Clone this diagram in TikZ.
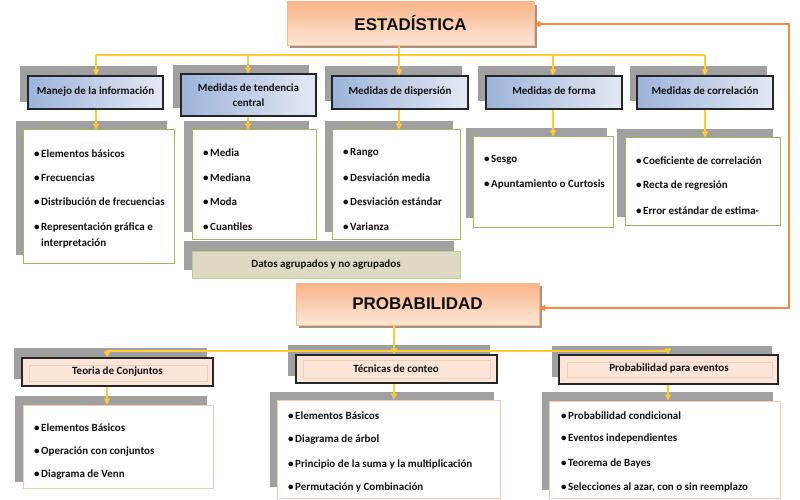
\documentclass[tikz,border=0pt]{standalone}
\usepackage{fontspec}
\setmainfont{Carlito}
\newfontfamily\arialf{Liberation Sans}
\usetikzlibrary{arrows.meta,calc}
\definecolor{gold}{HTML}{FFC000}
\definecolor{busy}{HTML}{FFCB3D}
\definecolor{shgray}{HTML}{A0A0A0}
\definecolor{greenb}{HTML}{9BBB59}
\definecolor{peach}{HTML}{FCE4D6}
\definecolor{peachb}{HTML}{F8CBAD}
\definecolor{orangel}{HTML}{F4893A}
\definecolor{txt}{HTML}{111111}
\definecolor{khaki}{HTML}{DDD9C3}
\definecolor{brownsh}{HTML}{A89484}
\definecolor{innerc}{HTML}{E6D2C4}
\definecolor{bluel}{HTML}{9CB4D9}
\definecolor{bluer}{HTML}{E4E8F4}
\definecolor{orat}{HTML}{F9B489}
\definecolor{orab}{HTML}{FDE7D8}
\newcommand\bul{\makebox[7pt][l]{\textbullet}}
\tikzset{
  shadowrect/.style={fill=shgray},
  bigbox/.style={draw=orangel!60, line width=0.5pt, top color=orat, bottom color=orab,
     text=txt, font=\arialf\bfseries\fontsize{17}{20}\selectfont, inner sep=0pt},
  hdrblue/.style={draw=black!85, line width=1.2pt, left color=bluel, right color=bluer,
     text=txt, font=\bfseries\fontsize{11}{15}\selectfont, align=center, inner sep=0pt},
  hdrpeach/.style={draw=black!85, line width=1.2pt, fill=peach,
     text=txt, font=\bfseries\fontsize{11}{15}\selectfont, align=center, inner sep=0pt},
  innerline/.style={draw=innerc, line width=0.8pt},
  contgreen/.style={draw=greenb, line width=1pt, fill=white, inner sep=0pt},
  contpeach/.style={draw=peachb, line width=1pt, fill=white, inner sep=0pt},
  item/.style={anchor=west, inner sep=0pt, text=txt, font=\bfseries\fontsize{11}{16}\selectfont, align=left},
  ptitle/.style={text=txt, font=\bfseries\fontsize{11}{15}\selectfont},
  bus/.style={draw=busy, line width=1.4pt},
  arr/.style={draw=busy, line width=1.4pt, -{Triangle[length=6pt,width=6pt,fill=gold]}},
  oarr/.style={draw=orangel, line width=1.4pt, {Triangle[length=6pt,width=6pt]}-{Triangle[length=6pt,width=6pt]}},
}
\begin{document}
\begin{tikzpicture}[x=1pt,y=-1pt]
\useasboundingbox (0,0) rectangle (800,500);

% ---------- ESTADISTICA ----------
\fill[brownsh] (290,5) rectangle (537,48);
\node[bigbox, minimum width=247pt, minimum height=43pt] (est) at (410.5,23.5) {ESTADÍSTICA};

% gray shadows of headers and contents
\fill[shadowrect] (20,66) rectangle (157,102);
\fill[shadowrect] (173,65) rectangle (309,108);
\fill[shadowrect] (325,66) rectangle (462,101);
\fill[shadowrect] (478,66) rectangle (615,101);
\fill[shadowrect] (630,66) rectangle (767,101);
\fill[shadowrect] (16,121) rectangle (167,255);
\fill[shadowrect] (184,121) rectangle (309,232);
\fill[shadowrect] (325,121) rectangle (453,232);
\fill[shadowrect] (466,128) rectangle (607,218);
\fill[shadowrect] (617,129) rectangle (773,217);
\fill[shadowrect] (184,241) rectangle (454,270);

\node[hdrblue, minimum width=135pt, minimum height=33pt] (h1) at (95.5,92.5) {Manejo de la información\rule[-3pt]{0pt}{0pt}};
\node[hdrblue, minimum width=135pt, minimum height=42pt] (h2) at (248.5,95) {Medidas de tendencia\\central};
\node[hdrblue, minimum width=136pt, minimum height=33pt] (h3) at (400,92.5) {Medidas de dispersión\rule[-3pt]{0pt}{0pt}};
\node[hdrblue, minimum width=136pt, minimum height=33pt] (h4) at (554,92.5) {Medidas de forma\rule[-3pt]{0pt}{0pt}};
\node[hdrblue, minimum width=136pt, minimum height=33pt] (h5) at (705,92.5) {Medidas de correlación\rule[-3pt]{0pt}{0pt}};

\node[contgreen, minimum width=151pt, minimum height=133pt] (c1) at (98.5,196.5) {};
\node[contgreen, minimum width=124pt, minimum height=109pt] (c2) at (254,184.5) {};
\node[contgreen, minimum width=128pt, minimum height=109pt] (c3) at (396,184.5) {};
\node[contgreen, minimum width=140pt, minimum height=90pt] (c4) at (543,182) {};
\node[contgreen, minimum width=155pt, minimum height=87pt] (c5) at (702.5,181.5) {};
\node[draw=greenb!70, line width=0.8pt, fill=khaki, minimum width=268pt, minimum height=27pt,
      text=txt, font=\bfseries\fontsize{11}{15}\selectfont] (datos) at (326,264.5) {Datos agrupados y no agrupados};

% items
\node[item] (c1a) at (34,154) {\bul Elementos básicos};
\node[item] (c1b) at (34,178) {\bul Frecuencias};
\node[item] (c1c) at (34,202) {\bul Distribución de frecuencias};
\node[item] (c1d) at (34,235) {\bul Representación gráfica e\\\hspace*{7pt}interpretación};

\node[item] (c2a) at (203,153) {\bul Media};
\node[item] (c2b) at (203,178) {\bul Mediana};
\node[item] (c2c) at (203,202) {\bul Moda};
\node[item] (c2d) at (203,227) {\bul Cuantiles};

\node[item] (c3a) at (343,153) {\bul Rango};
\node[item] (c3b) at (343,178) {\bul Desviación media};
\node[item] (c3c) at (343,202) {\bul Desviación estándar};
\node[item] (c3d) at (343,227) {\bul Varianza};

\node[item] (c4a) at (484,160) {\bul Sesgo};
\node[item] (c4b) at (484,185) {\bul Apuntamiento o Curtosis};

\node[item] (c5a) at (636,161) {\bul Coeficiente de correlación};
\node[item] (c5b) at (636,186) {\bul Recta de regresión};
\node[item] (c5c) at (636,211) {\bul Error estándar de estima-};

% connectors estadistica
\coordinate (e0) at (399,55);
\coordinate (e1) at (96,55);
\coordinate (e2) at (248,55);
\coordinate (e4) at (553,55);
\coordinate (e5) at (705,55);
\draw[bus] (e1) -- (e5);
\draw[bus] (est.south -| e0) -- (e0);
\draw[arr] (e1) -- (h1.north -| e1);
\draw[arr] (e2) -- (h2.north -| e2);
\draw[arr] (e0) -- (h3.north -| e0);
\draw[arr] (e4) -- (h4.north -| e4);
\draw[arr] (e5) -- (h5.north -| e5);
\draw[arr] (h1.south -| e1) -- (c1.north -| e1);
\draw[arr] (h2.south -| e2) -- (c2.north -| e2);
\draw[arr] (h3.south -| e0) -- (c3.north -| e0);
\draw[arr] (h4.south -| e4) -- (c4.north -| e4);
\draw[arr] (h5.south -| e5) -- (c5.north -| e5);

% ---------- PROBABILIDAD ----------
\fill[brownsh] (299,286) rectangle (542,328);
\node[bigbox, minimum width=243pt, minimum height=42pt] (prob) at (417.5,304) {PROBABILIDAD};

\coordinate (o1) at (789,24);
\coordinate (o2) at (789,308);
\draw[oarr] (est.east |- o1) -- (o1) -- (o2) -- (prob.east |- o2);

\fill[shadowrect] (14,348) rectangle (207,379);
\fill[shadowrect] (288,345) rectangle (490,376);
\fill[shadowrect] (552,346) rectangle (772,377);
\fill[shadowrect] (15,396) rectangle (207,482);
\fill[shadowrect] (270,392) rectangle (494,487);
\fill[shadowrect] (542,392) rectangle (773,490);

\node[hdrpeach, minimum width=191pt, minimum height=28pt] (p1) at (117.5,372) {};
\draw[innerline] (29,365) rectangle (207,381);
\node[ptitle] (p1t) at (117.5,372) {Teoria de Conjuntos};
\node[hdrpeach, minimum width=201pt, minimum height=28pt] (p2) at (396.5,369) {};
\draw[innerline] (303,360) rectangle (490,378);
\node[ptitle] (p2t) at (396,369) {Técnicas de conteo};
\node[hdrpeach, minimum width=219pt, minimum height=29pt] (p3) at (668.5,369.5) {};
\draw[innerline] (567,362) rectangle (772,377);
\node[ptitle] (p3t) at (669,369) {Probabilidad para eventos};

\node[contpeach, minimum width=190pt, minimum height=83pt] (q1) at (118,446.5) {};
\node[contpeach, minimum width=223pt, minimum height=98pt] (q2) at (388.5,449) {};
\node[contpeach, minimum width=231pt, minimum height=97pt] (q3) at (664.5,449.5) {};

\node[item] (q1a) at (34,428) {\bul Elementos Básicos};
\node[item] (q1b) at (34,452) {\bul Operación con conjuntos};
\node[item] (q1c) at (34,475) {\bul Diagrama de Venn};

\node[item] (q2a) at (288,416) {\bul Elementos Básicos};
\node[item] (q2b) at (288,440) {\bul Diagrama de árbol};
\node[item] (q2c) at (288,464) {\bul Principio de la suma y la multiplicación};
\node[item] (q2d) at (288,488) {\bul Permutación y Combinación};

\node[item] (q3a) at (561,416) {\bul Probabilidad condicional};
\node[item] (q3b) at (561,439) {\bul Eventos independientes};
\node[item] (q3c) at (561,464) {\bul Teorema de Bayes};
\node[item] (q3d) at (561,488) {\bul Selecciones al azar, con o sin reemplazo};

% connectors probabilidad
\coordinate (a0) at (394,351);
\coordinate (a1) at (107,351);
\coordinate (a3) at (668,351);
\draw[bus] (a1) -- (a3);
\draw[bus] (prob.south -| a0) -- (a0);
\draw[arr] (a1) -- (p1.north -| a1);
\draw[arr] (a0) -- (p2.north -| a0);
\draw[arr] (a3) -- (p3.north -| a3);
\draw[arr] (p1.south -| a1) -- (q1.north -| a1);
\draw[arr] (p2.south -| a0) -- (q2.north -| a0);
\draw[arr] (p3.south -| a3) -- (q3.north -| a3);
\end{tikzpicture}
\end{document}
